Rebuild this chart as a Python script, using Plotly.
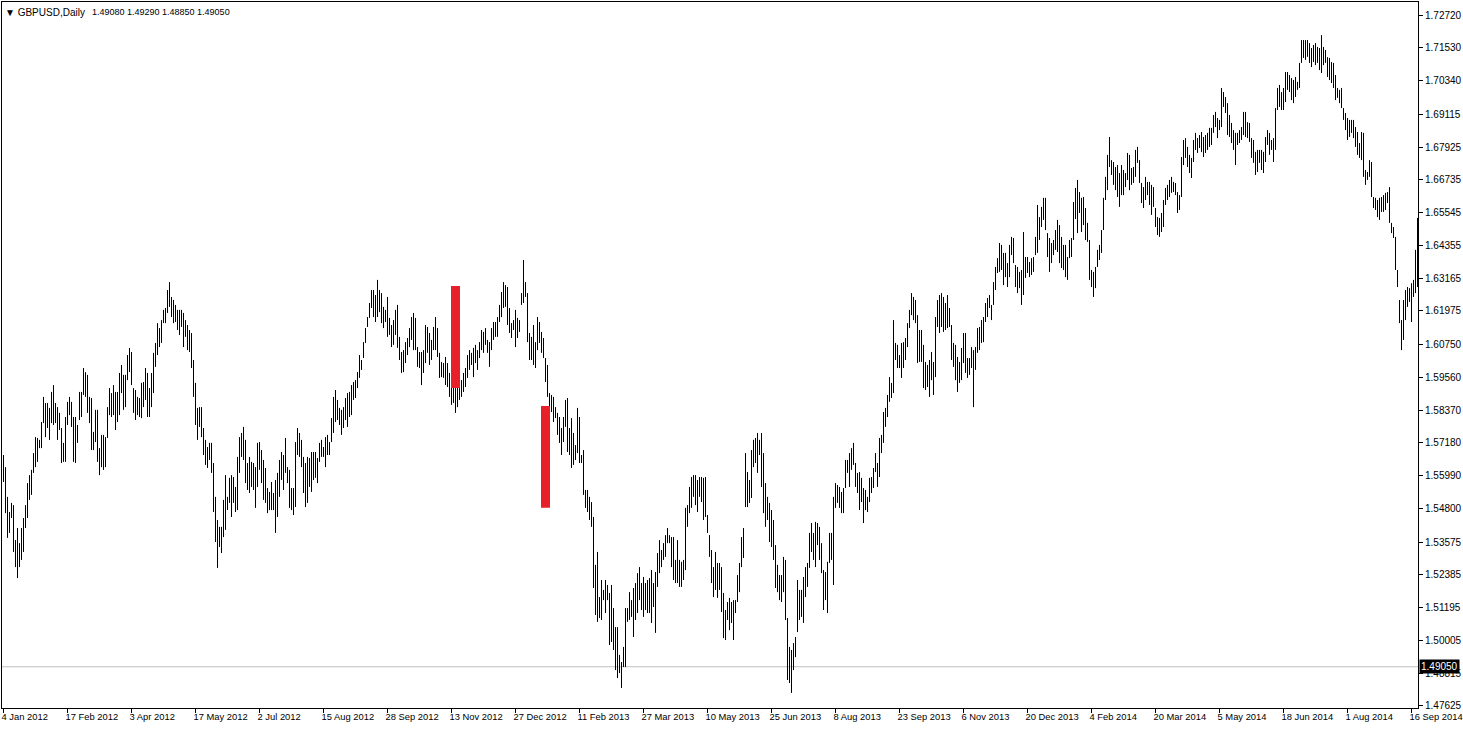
import pandas as pd
import plotly.graph_objects as go

symbol_name = "\u25bc GBPUSD,Daily"
symbol_quote = "1.49080 1.49290 1.48850 1.49050"
last_price = 1.49050
first_date = "2012-01-04"

highs = [
1.5674, 1.5630, 1.5522, 1.5467, 1.5500, 1.5492, 1.5365, 1.5409, 1.5354, 1.5409,
1.5445, 1.5492, 1.5572, 1.5601, 1.5620, 1.5681, 1.5739, 1.5736, 1.5729, 1.5794,
1.5885, 1.5863, 1.5863, 1.5845, 1.5903, 1.5928, 1.5863, 1.5848, 1.5827, 1.5772,
1.5718, 1.5812, 1.5867, 1.5885, 1.5867, 1.5812, 1.5812, 1.5783, 1.5903, 1.5903,
1.5990, 1.5975, 1.5965, 1.5885, 1.5881, 1.5758, 1.5838, 1.5838, 1.5699, 1.5747,
1.5747, 1.5739, 1.5848, 1.5917, 1.5899, 1.5928, 1.5903, 1.5903, 1.5972, 1.6001,
1.5965, 1.5965, 1.6037, 1.6063, 1.6048, 1.5917, 1.5910, 1.5885, 1.5881, 1.5936,
1.5939, 1.5990, 1.5972, 1.5917, 1.5972, 1.6045, 1.6081, 1.6153, 1.6135, 1.6164,
1.6201, 1.6208, 1.6273, 1.6302, 1.6248, 1.6237, 1.6219, 1.6201, 1.6201, 1.6201,
1.6190, 1.6164, 1.6146, 1.6128, 1.6117, 1.6019, 1.5936, 1.5845, 1.5848, 1.5848,
1.5772, 1.5729, 1.5703, 1.5718, 1.5718, 1.5645, 1.5522, 1.5438, 1.5413, 1.5413,
1.5511, 1.5601, 1.5522, 1.5591, 1.5601, 1.5594, 1.5558, 1.5667, 1.5739, 1.5754,
1.5776, 1.5729, 1.5645, 1.5667, 1.5649, 1.5645, 1.5630, 1.5718, 1.5721, 1.5692,
1.5656, 1.5627, 1.5554, 1.5540, 1.5576, 1.5536, 1.5583, 1.5609, 1.5656, 1.5685,
1.5674, 1.5736, 1.5630, 1.5620, 1.5554, 1.5554, 1.5721, 1.5772, 1.5754, 1.5729,
1.5667, 1.5645, 1.5667, 1.5663, 1.5685, 1.5685, 1.5685, 1.5663, 1.5718, 1.5729,
1.5703, 1.5739, 1.5747, 1.5721, 1.5808, 1.5885, 1.5910, 1.5874, 1.5845, 1.5838,
1.5848, 1.5881, 1.5899, 1.5903, 1.5928, 1.5939, 1.5946, 1.5975, 1.6037, 1.6019,
1.6084, 1.6135, 1.6175, 1.6226, 1.6273, 1.6273, 1.6255, 1.6310, 1.6273, 1.6262,
1.6212, 1.6201, 1.6248, 1.6172, 1.6146, 1.6164, 1.6201, 1.6219, 1.6103, 1.6048,
1.6055, 1.6084, 1.6099, 1.6135, 1.6175, 1.6190, 1.6172, 1.6066, 1.6048, 1.6048,
1.6055, 1.6146, 1.6139, 1.6117, 1.6092, 1.6139, 1.6175, 1.6135, 1.6045, 1.6012,
1.6008, 1.6030, 1.6008, 1.5972, 1.5939, 1.5921, 1.5917, 1.5921, 1.5917, 1.5946,
1.5972, 1.5990, 1.6037, 1.6055, 1.6045, 1.6063, 1.6074, 1.6055, 1.6084, 1.6128,
1.6121, 1.6135, 1.6092, 1.6084, 1.6135, 1.6157, 1.6157, 1.6175, 1.6219, 1.6266,
1.6302, 1.6291, 1.6284, 1.6208, 1.6153, 1.6164, 1.6201, 1.6172, 1.6164, 1.6262,
1.6382, 1.6302, 1.6262, 1.6117, 1.6103, 1.6146, 1.6084, 1.6175, 1.6157, 1.6121,
1.6099, 1.6026, 1.6001, 1.5899, 1.5892, 1.5885, 1.5848, 1.5827, 1.5812, 1.5772,
1.5812, 1.5874, 1.5881, 1.5772, 1.5808, 1.5754, 1.5710, 1.5845, 1.5812, 1.5674,
1.5692, 1.5547, 1.5547, 1.5522, 1.5503, 1.5449, 1.5275, 1.5322, 1.5158, 1.5220,
1.5184, 1.5220, 1.5202, 1.5173, 1.5202, 1.5118, 1.5049, 1.5049, 1.4948, 1.4922,
1.4977, 1.5118, 1.5118, 1.5176, 1.5147, 1.5191, 1.5209, 1.5245, 1.5267, 1.5209,
1.5231, 1.5209, 1.5220, 1.5227, 1.5256, 1.5209, 1.5249, 1.5318, 1.5365, 1.5329,
1.5354, 1.5383, 1.5409, 1.5383, 1.5376, 1.5376, 1.5293, 1.5365, 1.5293, 1.5286,
1.5293, 1.5482, 1.5492, 1.5558, 1.5594, 1.5601, 1.5601, 1.5583, 1.5594, 1.5594,
1.5591, 1.5594, 1.5456, 1.5383, 1.5329, 1.5267, 1.5322, 1.5282, 1.5282, 1.5267,
1.5173, 1.5111, 1.5140, 1.5155, 1.5140, 1.5147, 1.5147, 1.5238, 1.5282, 1.5376,
1.5409, 1.5681, 1.5612, 1.5583, 1.5692, 1.5729, 1.5736, 1.5754, 1.5729, 1.5754,
1.5681, 1.5572, 1.5522, 1.5500, 1.5474, 1.5438, 1.5347, 1.5275, 1.5238, 1.5238,
1.5304, 1.5293, 1.5082, 1.4977, 1.4966, 1.4991, 1.5013, 1.5220, 1.5184, 1.5184,
1.5231, 1.5267, 1.5282, 1.5391, 1.5427, 1.5391, 1.5431, 1.5427, 1.5413, 1.5354,
1.5256, 1.5249, 1.5286, 1.5391, 1.5391, 1.5522, 1.5572, 1.5565, 1.5558, 1.5540,
1.5554, 1.5656, 1.5656, 1.5681, 1.5699, 1.5718, 1.5645, 1.5609, 1.5612, 1.5591,
1.5554, 1.5547, 1.5522, 1.5591, 1.5594, 1.5627, 1.5681, 1.5645, 1.5736, 1.5747,
1.5830, 1.5845, 1.5892, 1.5957, 1.5936, 1.6164, 1.6081, 1.6074, 1.6037, 1.6081,
1.6084, 1.6099, 1.6153, 1.6201, 1.6262, 1.6248, 1.6237, 1.6182, 1.6128, 1.6128,
1.6074, 1.6012, 1.6001, 1.6019, 1.6048, 1.6012, 1.6175, 1.6237, 1.6255, 1.6262,
1.6248, 1.6226, 1.6255, 1.6208, 1.6146, 1.6081, 1.6074, 1.6030, 1.6012, 1.6063,
1.6117, 1.6117, 1.6026, 1.6026, 1.6066, 1.6055, 1.6066, 1.6135, 1.6139, 1.6164,
1.6175, 1.6226, 1.6244, 1.6255, 1.6219, 1.6302, 1.6357, 1.6389, 1.6444, 1.6437,
1.6408, 1.6408, 1.6371, 1.6437, 1.6466, 1.6462, 1.6364, 1.6357, 1.6339, 1.6346,
1.6484, 1.6393, 1.6393, 1.6375, 1.6389, 1.6393, 1.6466, 1.6582, 1.6538, 1.6575,
1.6608, 1.6608, 1.6480, 1.6462, 1.6444, 1.6455, 1.6491, 1.6528, 1.6509, 1.6466,
1.6437, 1.6437, 1.6393, 1.6455, 1.6462, 1.6593, 1.6644, 1.6673, 1.6629, 1.6608,
1.6611, 1.6571, 1.6517, 1.6455, 1.6346, 1.6339, 1.6357, 1.6419, 1.6437, 1.6491,
1.6608, 1.6684, 1.6764, 1.6829, 1.6745, 1.6738, 1.6720, 1.6727, 1.6698, 1.6727,
1.6709, 1.6698, 1.6771, 1.6764, 1.6716, 1.6720, 1.6782, 1.6793, 1.6745, 1.6662,
1.6647, 1.6684, 1.6666, 1.6666, 1.6655, 1.6647, 1.6571, 1.6538, 1.6535, 1.6553,
1.6600, 1.6644, 1.6655, 1.6673, 1.6684, 1.6666, 1.6662, 1.6629, 1.6618, 1.6756,
1.6818, 1.6825, 1.6793, 1.6764, 1.6753, 1.6818, 1.6844, 1.6825, 1.6836, 1.6847,
1.6829, 1.6836, 1.6844, 1.6862, 1.6862, 1.6909, 1.6920, 1.6898, 1.6891, 1.7007,
1.6992, 1.6974, 1.6952, 1.6909, 1.6880, 1.6854, 1.6844, 1.6844, 1.6854, 1.6865,
1.6920, 1.6920, 1.6883, 1.6880, 1.6825, 1.6818, 1.6775, 1.6782, 1.6782, 1.6782,
1.6775, 1.6829, 1.6854, 1.6844, 1.6818, 1.6825, 1.6934, 1.7007, 1.7018, 1.6992,
1.7007, 1.7065, 1.7065, 1.7054, 1.7043, 1.7036, 1.7047, 1.7029, 1.7098, 1.7181,
1.7181, 1.7181, 1.7181, 1.7170, 1.7152, 1.7163, 1.7170, 1.7156, 1.7152, 1.7199,
1.7156, 1.7145, 1.7119, 1.7116, 1.7101, 1.7098, 1.7054, 1.7007, 1.7000, 1.7007,
1.6934, 1.6916, 1.6898, 1.6891, 1.6891, 1.6891, 1.6865, 1.6847, 1.6807, 1.6847,
1.6844, 1.6709, 1.6702, 1.6745, 1.6738, 1.6611, 1.6608, 1.6600, 1.6608, 1.6611,
1.6618, 1.6626, 1.6629, 1.6647, 1.6517, 1.6502, 1.6466, 1.6346, 1.6237, 1.6164,
1.6237, 1.6273, 1.6284, 1.6280, 1.6298, 1.6310, 1.6419, 1.6535,
]

lows = [
1.5576, 1.5463, 1.5373, 1.5391, 1.5445, 1.5322, 1.5267, 1.5227, 1.5267, 1.5293,
1.5322, 1.5409, 1.5445, 1.5511, 1.5529, 1.5609, 1.5630, 1.5649, 1.5699, 1.5699,
1.5790, 1.5739, 1.5772, 1.5729, 1.5790, 1.5783, 1.5790, 1.5729, 1.5765, 1.5645,
1.5649, 1.5649, 1.5783, 1.5819, 1.5776, 1.5649, 1.5645, 1.5718, 1.5801, 1.5812,
1.5892, 1.5885, 1.5827, 1.5790, 1.5692, 1.5692, 1.5721, 1.5649, 1.5601, 1.5630,
1.5620, 1.5630, 1.5736, 1.5819, 1.5812, 1.5819, 1.5765, 1.5794, 1.5819, 1.5899,
1.5838, 1.5848, 1.5946, 1.5975, 1.5928, 1.5827, 1.5801, 1.5819, 1.5812, 1.5808,
1.5848, 1.5874, 1.5812, 1.5812, 1.5848, 1.5899, 1.5994, 1.6037, 1.6066, 1.6081,
1.6153, 1.6153, 1.6190, 1.6212, 1.6175, 1.6153, 1.6157, 1.6128, 1.6110, 1.6139,
1.6066, 1.6103, 1.6055, 1.6048, 1.5990, 1.5885, 1.5783, 1.5729, 1.5776, 1.5739,
1.5674, 1.5638, 1.5627, 1.5656, 1.5609, 1.5467, 1.5358, 1.5264, 1.5340, 1.5318,
1.5376, 1.5402, 1.5474, 1.5500, 1.5449, 1.5500, 1.5467, 1.5474, 1.5609, 1.5667,
1.5656, 1.5572, 1.5547, 1.5536, 1.5558, 1.5547, 1.5482, 1.5558, 1.5620, 1.5572,
1.5511, 1.5500, 1.5463, 1.5474, 1.5474, 1.5474, 1.5391, 1.5449, 1.5522, 1.5583,
1.5547, 1.5609, 1.5572, 1.5482, 1.5474, 1.5456, 1.5485, 1.5674, 1.5667, 1.5630,
1.5536, 1.5485, 1.5500, 1.5558, 1.5540, 1.5583, 1.5591, 1.5572, 1.5649, 1.5667,
1.5667, 1.5630, 1.5674, 1.5674, 1.5721, 1.5754, 1.5794, 1.5801, 1.5783, 1.5747,
1.5772, 1.5801, 1.5776, 1.5812, 1.5819, 1.5874, 1.5881, 1.5917, 1.5954, 1.5983,
1.6026, 1.6081, 1.6139, 1.6172, 1.6208, 1.6175, 1.6157, 1.6175, 1.6193, 1.6153,
1.6135, 1.6157, 1.6103, 1.6110, 1.6066, 1.6074, 1.6110, 1.6063, 1.6019, 1.5972,
1.5975, 1.6008, 1.6037, 1.6066, 1.6092, 1.6055, 1.6055, 1.5994, 1.5990, 1.5928,
1.5972, 1.6008, 1.6045, 1.6001, 1.6019, 1.6055, 1.6055, 1.6030, 1.5954, 1.5957,
1.5954, 1.5928, 1.5921, 1.5885, 1.5856, 1.5863, 1.5827, 1.5848, 1.5874, 1.5885,
1.5903, 1.5921, 1.5954, 1.5983, 1.6001, 1.5957, 1.6008, 1.5983, 1.6026, 1.6055,
1.6045, 1.6074, 1.6045, 1.5994, 1.6055, 1.6092, 1.6103, 1.6103, 1.6157, 1.6175,
1.6208, 1.6212, 1.6146, 1.6117, 1.6099, 1.6128, 1.6066, 1.6099, 1.6121, 1.6219,
1.6226, 1.6248, 1.6084, 1.6019, 1.6019, 1.6001, 1.5990, 1.6055, 1.6081, 1.6045,
1.6026, 1.5939, 1.5885, 1.5845, 1.5830, 1.5794, 1.5808, 1.5747, 1.5718, 1.5674,
1.5721, 1.5776, 1.5685, 1.5674, 1.5627, 1.5638, 1.5656, 1.5681, 1.5645, 1.5645,
1.5529, 1.5482, 1.5467, 1.5438, 1.5413, 1.5191, 1.5093, 1.5068, 1.5082, 1.5075,
1.5147, 1.5100, 1.5147, 1.4984, 1.4995, 1.4966, 1.4893, 1.4864, 1.4882, 1.4828,
1.4904, 1.4904, 1.5068, 1.5075, 1.5086, 1.5013, 1.5075, 1.5100, 1.5147, 1.5111,
1.5086, 1.5111, 1.5100, 1.5100, 1.5064, 1.5122, 1.5028, 1.5195, 1.5245, 1.5267,
1.5293, 1.5304, 1.5354, 1.5354, 1.5267, 1.5220, 1.5209, 1.5209, 1.5195, 1.5195,
1.5220, 1.5256, 1.5413, 1.5463, 1.5482, 1.5522, 1.5492, 1.5467, 1.5522, 1.5503,
1.5438, 1.5449, 1.5391, 1.5304, 1.5209, 1.5158, 1.5184, 1.5155, 1.5184, 1.5104,
1.5009, 1.5002, 1.5075, 1.5038, 1.5064, 1.5002, 1.5100, 1.5140, 1.5176, 1.5267,
1.5300, 1.5485, 1.5485, 1.5500, 1.5518, 1.5630, 1.5645, 1.5609, 1.5674, 1.5558,
1.5463, 1.5413, 1.5438, 1.5358, 1.5340, 1.5293, 1.5191, 1.5176, 1.5147, 1.5140,
1.5176, 1.5075, 1.4857, 1.4846, 1.4810, 1.4893, 1.4940, 1.5031, 1.5075, 1.5086,
1.5064, 1.5158, 1.5195, 1.5264, 1.5322, 1.5293, 1.5267, 1.5347, 1.5293, 1.5245,
1.5111, 1.5147, 1.5100, 1.5282, 1.5293, 1.5202, 1.5482, 1.5500, 1.5482, 1.5463,
1.5463, 1.5554, 1.5609, 1.5558, 1.5620, 1.5638, 1.5558, 1.5536, 1.5474, 1.5503,
1.5427, 1.5474, 1.5467, 1.5503, 1.5536, 1.5554, 1.5612, 1.5558, 1.5594, 1.5681,
1.5718, 1.5776, 1.5812, 1.5867, 1.5881, 1.5899, 1.6019, 1.5990, 1.5990, 1.5954,
1.5990, 1.6019, 1.6066, 1.6135, 1.6182, 1.6164, 1.6153, 1.6008, 1.6012, 1.6012,
1.5917, 1.5910, 1.5921, 1.5885, 1.5946, 1.5892, 1.5957, 1.6139, 1.6117, 1.6139,
1.6121, 1.6128, 1.6135, 1.6139, 1.6019, 1.5994, 1.5946, 1.5903, 1.5936, 1.5946,
1.6008, 1.5972, 1.5954, 1.5965, 1.5990, 1.5848, 1.5983, 1.6045, 1.6055, 1.6081,
1.6084, 1.6157, 1.6175, 1.6208, 1.6164, 1.6219, 1.6273, 1.6335, 1.6339, 1.6346,
1.6291, 1.6320, 1.6284, 1.6320, 1.6400, 1.6371, 1.6284, 1.6262, 1.6280, 1.6219,
1.6255, 1.6317, 1.6335, 1.6320, 1.6328, 1.6339, 1.6400, 1.6408, 1.6455, 1.6502,
1.6528, 1.6491, 1.6393, 1.6339, 1.6371, 1.6400, 1.6419, 1.6411, 1.6371, 1.6353,
1.6346, 1.6320, 1.6310, 1.6389, 1.6393, 1.6455, 1.6531, 1.6480, 1.6553, 1.6484,
1.6509, 1.6455, 1.6448, 1.6310, 1.6284, 1.6248, 1.6280, 1.6357, 1.6382, 1.6408,
1.6491, 1.6600, 1.6636, 1.6720, 1.6691, 1.6655, 1.6636, 1.6611, 1.6575, 1.6618,
1.6618, 1.6647, 1.6673, 1.6636, 1.6655, 1.6662, 1.6684, 1.6735, 1.6662, 1.6589,
1.6571, 1.6600, 1.6618, 1.6582, 1.6546, 1.6575, 1.6502, 1.6473, 1.6466, 1.6484,
1.6502, 1.6582, 1.6600, 1.6611, 1.6626, 1.6629, 1.6618, 1.6553, 1.6564, 1.6611,
1.6727, 1.6753, 1.6720, 1.6698, 1.6680, 1.6738, 1.6782, 1.6771, 1.6789, 1.6774,
1.6756, 1.6771, 1.6782, 1.6793, 1.6800, 1.6844, 1.6865, 1.6825, 1.6854, 1.6865,
1.6938, 1.6916, 1.6836, 1.6829, 1.6807, 1.6782, 1.6727, 1.6800, 1.6807, 1.6818,
1.6836, 1.6829, 1.6825, 1.6811, 1.6753, 1.6735, 1.6691, 1.6702, 1.6735, 1.6709,
1.6698, 1.6738, 1.6800, 1.6764, 1.6782, 1.6738, 1.6782, 1.6927, 1.6938, 1.6927,
1.6927, 1.6956, 1.7000, 1.6992, 1.6963, 1.6952, 1.6974, 1.7000, 1.7007, 1.7098,
1.7116, 1.7109, 1.7120, 1.7098, 1.7083, 1.7101, 1.7090, 1.7098, 1.7072, 1.7061,
1.7090, 1.7098, 1.7047, 1.7036, 1.7025, 1.7007, 1.6963, 1.6971, 1.6952, 1.6934,
1.6891, 1.6854, 1.6818, 1.6829, 1.6844, 1.6825, 1.6793, 1.6764, 1.6753, 1.6745,
1.6684, 1.6655, 1.6673, 1.6684, 1.6611, 1.6571, 1.6564, 1.6538, 1.6528, 1.6557,
1.6557, 1.6564, 1.6589, 1.6517, 1.6480, 1.6462, 1.6346, 1.6284, 1.6153, 1.6055,
1.6092, 1.6164, 1.6212, 1.6230, 1.6157, 1.6248, 1.6262, 1.6284,
]

date_labels = ["4 Jan 2012", "17 Feb 2012", "3 Apr 2012", "17 May 2012", "2 Jul 2012",
               "15 Aug 2012", "28 Sep 2012", "13 Nov 2012", "27 Dec 2012", "11 Feb 2013",
               "27 Mar 2013", "10 May 2013", "25 Jun 2013", "8 Aug 2013", "23 Sep 2013",
               "6 Nov 2013", "20 Dec 2013", "4 Feb 2014", "20 Mar 2014", "5 May 2014",
               "18 Jun 2014", "1 Aug 2014", "16 Sep 2014"]

price_ticks = [1.72720, 1.71530, 1.70340, 1.69115, 1.67925, 1.66735, 1.65545, 1.64355,
               1.63165, 1.61975, 1.60750, 1.59560, 1.58370, 1.57180, 1.55990, 1.54800,
               1.53575, 1.52385, 1.51195, 1.50005, 1.48815, 1.47625]

# marked zones: start bar date, end bar date, top price, bottom price
zone_start = ["2012-11-13", "2013-01-15"]
zone_end = ["2012-11-19", "2013-01-21"]
zone_top = [1.6288, 1.5852]
zone_bottom = [1.5917, 1.5482]

n = min(len(highs), len(lows))
dates = pd.bdate_range(first_date, periods=n)
date_index = {d.strftime("%Y-%m-%d"): i for i, d in enumerate(dates)}

xs, ys = [], []
for i, (h, l) in enumerate(zip(highs[:n], lows[:n])):
    xs += [i, i, None]
    ys += [l, h, None]

tick_pos = []
tick_txt = []
for lab in date_labels:
    key = pd.Timestamp(lab).strftime("%Y-%m-%d")
    if key in date_index:
        tick_pos.append(date_index[key])
        tick_txt.append(lab)

fig = go.Figure()
fig.add_trace(go.Scatter(x=xs, y=ys, mode="lines",
                         line=dict(color="#000000", width=1),
                         hoverinfo="skip", showlegend=False))

font_main = "Liberation Sans, Arial, sans-serif"

shapes = [dict(type="line", xref="paper", x0=0, x1=1, yref="y", y0=last_price, y1=last_price,
               line=dict(color="#c0c0c0", width=1), layer="below")]
for s, e, t, b in zip(zone_start, zone_end, zone_top, zone_bottom):
    x0 = date_index.get(s, 0) - 0.25
    x1 = date_index.get(e, 0) + 0.25
    shapes.append(dict(type="rect", xref="x", yref="y", x0=x0, x1=x1, y0=b, y1=t,
                       fillcolor="#e8202a", line=dict(width=0), layer="above"))

fig.update_layout(
    width=1463, height=731,
    margin=dict(l=2, r=45, t=2, b=23, autoexpand=False),
    paper_bgcolor="white", plot_bgcolor="white",
    font=dict(family=font_main, size=10, color="#000000"),
    shapes=shapes,
    xaxis=dict(range=[-0.75, n - 0.75], tickmode="array", tickvals=tick_pos, ticktext=tick_txt,
               showgrid=False, zeroline=False, showline=True, linecolor="#000000", linewidth=1,
               mirror=True, ticks="outside", ticklen=4, tickcolor="#000000",
               tickangle=0, automargin=False, ticklabeloverflow="allow",
               ticklabelshift=-3,
               ticklabelposition="outside right", tickfont=dict(size=9.4, family=font_main)),
    yaxis=dict(range=[1.47552, 1.73192], side="right", tickmode="array", tickvals=price_ticks,
               ticktext=["%.5f" % v for v in price_ticks], showgrid=False, zeroline=False,
               showline=True, linecolor="#000000", linewidth=1, mirror=True,
               ticks="outside", ticklen=4, tickcolor="#000000", automargin=False,
               ticklabeloverflow="allow",
               tickfont=dict(size=10, family=font_main)),
    annotations=[
        dict(text=symbol_name, xref="paper", yref="paper", x=0, y=1, xanchor="left",
             yanchor="top", xshift=1, yshift=-3, showarrow=False,
             font=dict(size=10, family=font_main, color="#000000")),
        dict(text=symbol_quote, xref="paper", yref="paper", x=0, y=1, xanchor="left",
             yanchor="top", xshift=88, yshift=-3, showarrow=False,
             font=dict(size=9, family=font_main, color="#000000")),
        dict(text="%.5f" % last_price, xref="paper", yref="y", x=1, y=last_price,
             xanchor="left", yanchor="middle", xshift=1, showarrow=False,
             bgcolor="#000000", borderpad=1,
             font=dict(size=10, family=font_main, color="#ffffff")),
    ],
)

fig.write_html("out.html", config={"displayModeBar": False},
               post_script="document.body.style.margin='0';document.body.style.overflow='hidden';")
